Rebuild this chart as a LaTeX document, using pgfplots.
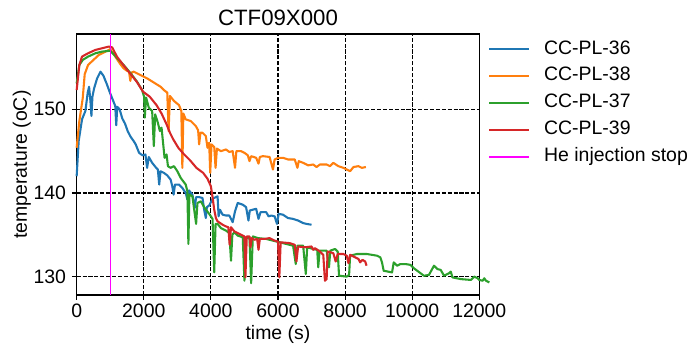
\documentclass[border=0pt]{standalone}
\usepackage{fontspec}
\setmainfont{Liberation Sans}
\usepackage{pgfplots}
\pgfplotsset{compat=1.18}
\definecolor{cblue}{HTML}{1F77B4}
\definecolor{corange}{HTML}{FF7F0E}
\definecolor{cgreen}{HTML}{2CA02C}
\definecolor{cred}{HTML}{D62728}
\definecolor{cmag}{HTML}{FF00FF}
\begin{document}
\begin{tikzpicture}
\useasboundingbox (-55.2pt,-37.44pt) rectangle (440.9pt,212.4pt);
\begin{axis}[
  at={(0pt,0pt)}, anchor=south west,
  scale only axis, width=289.9pt, height=187.9pt,
  xmin=0, xmax=12000, ymin=127.8, ymax=159,
  clip=false,
  xtick={0,2000,4000,6000,8000,10000,12000},
  ytick={130,140,150},
  scaled ticks=false,
  /pgf/number format/assume math mode=true,
  /pgf/number format/set thousands separator={},
  tick align=outside, tick pos=left,
  major tick length=3.5pt,
  tick style={black, line width=0.8pt},
  axis line style={black, line width=0.8pt},
  grid=major,
  major grid style={black, line width=0.8pt, dash pattern=on 2.96pt off 1.28pt},
  every tick label/.append style={font=\fontsize{14}{16.8}\selectfont, inner sep=0pt},
  xticklabel shift=2.5pt, yticklabel shift=4pt,
  title={CTF09X000},
  every axis title/.style={at={(axis description cs:0.5,1)}, anchor=base, yshift=6pt, font=\fontsize{16}{19.2}\selectfont},
  xlabel={time (s)},
  ylabel={temperature (oC)},
  every axis x label/.style={at={(axis description cs:0.5,0)}, anchor=base, yshift=-31.7pt, font=\fontsize{14}{16.8}\selectfont},
  every axis y label/.style={at={(axis description cs:0,0.5)}, xshift=-35.8pt, rotate=90, anchor=base, font=\fontsize{14}{16.8}\selectfont},
  legend cell align=left,
  legend style={at={(axis description cs:1,1)}, anchor=north west, xshift=6.4pt, yshift=-4.4pt,
    draw=none, fill=none, inner sep=0pt, outer sep=0pt, row sep=6.4pt, column sep=10pt,
    font=\fontsize{14}{16.8}\selectfont,
    nodes={inner sep=0pt, text height=10pt, text depth=3pt}},
  legend image code/.code={\draw[#1] (0pt,0pt) -- (28.8pt,0pt);},
  every axis plot/.append style={line width=1.5pt, line join=round},
]
\addplot[cblue] coordinates {
(0,142.0) (60,146.2) (160,148.8) (260,149.8) (330,152.0) (370,152.7) (410,151.0) (440,149.2) (470,151.5) (520,152.5) (610,153.7) (710,154.5) (800,154.0) (900,153.0) (1000,151.9) (1100,150.9) (1150,150.4) (1180,148.1) (1210,150.3) (1280,150.0) (1360,148.9) (1440,148.3) (1520,147.4) (1610,146.7) (1700,146.2) (1760,145.8) (1860,144.8) (1960,144.5) (2050,144.6) (2100,143.0) (2150,144.3) (2250,143.6) (2350,143.1) (2420,142.8) (2460,141.0) (2500,142.6) (2600,142.4) (2700,142.1) (2800,141.6) (2850,140.8) (2890,139.8) (2930,141.0) (3050,141.0) (3150,140.6) (3250,140.0) (3300,139.2) (3350,140.3) (3450,139.8) (3520,138.2) (3560,139.5) (3650,139.5) (3750,139.4) (3800,138.0) (3850,137.0) (3880,138.3) (3950,138.5) (4050,139.3) (4150,139.5) (4200,139.6) (4230,137.2) (4270,138.0) (4350,137.4) (4450,137.3) (4550,137.3) (4650,136.5) (4720,137.8) (4800,138.8) (4950,138.6) (5050,138.3) (5120,136.7) (5160,137.9) (5250,138.0) (5350,138.1) (5420,136.9) (5480,137.7) (5650,137.7) (5720,137.2) (5800,137.3) (5900,137.2) (5970,136.3) (6020,137.5) (6150,137.4) (6300,137.0) (6450,136.9) (6600,136.7) (6750,136.4) (6850,136.3) (7000,136.2)
};
\addlegendentry{CC-PL-36}
\addplot[corange] coordinates {
(0,145.4) (80,148.6) (180,151.3) (240,154.2) (340,155.3) (500,155.9) (660,156.5) (860,156.9) (960,157.1) (1000,157.2) (1100,156.6) (1200,156.0) (1300,155.4) (1400,154.9) (1500,154.6) (1560,154.5) (1600,153.4) (1640,154.4) (1700,154.5) (1900,154.1) (2100,153.7) (2300,153.2) (2500,152.7) (2600,152.3) (2700,152.0) (2740,147.4) (2780,151.6) (2900,151.0) (3050,150.5) (3120,149.8) (3150,143.0) (3180,149.5) (3250,148.8) (3400,148.6) (3550,148.0) (3620,147.5) (3650,145.8) (3690,147.2) (3750,147.2) (3850,146.8) (3900,145.4) (3950,146.0) (3980,142.4) (4020,145.8) (4100,145.5) (4140,143.0) (4180,145.3) (4300,145.0) (4450,145.2) (4550,144.9) (4650,145.0) (4720,143.0) (4760,145.0) (4900,145.0) (5000,144.8) (5100,144.5) (5150,143.8) (5200,144.4) (5350,144.2) (5420,143.5) (5460,144.3) (5550,144.4) (5750,144.3) (5850,142.8) (5900,144.0) (6000,144.2) (6150,144.2) (6300,144.0) (6500,144.0) (6580,143.0) (6620,143.8) (6750,143.6) (6900,143.3) (7050,143.4) (7150,143.1) (7250,143.4) (7450,143.4) (7550,143.2) (7650,143.6) (7800,143.2) (7950,143.0) (8050,142.8) (8150,142.6) (8250,143.1) (8400,143.2) (8500,143.0) (8620,143.1)
};
\addlegendentry{CC-PL-38}
\addplot[cgreen] coordinates {
(0,153.1) (80,155.3) (180,155.9) (340,156.3) (560,156.7) (760,156.9) (1000,157.0) (1100,156.6) (1210,156.1) (1400,155.3) (1610,154.3) (1800,153.3) (1950,152.3) (2010,151.5) (2030,149.0) (2070,151.4) (2150,150.2) (2250,149.8) (2300,145.6) (2340,149.4) (2420,148.4) (2480,147.4) (2530,147.8) (2580,145.8) (2620,144.2) (2680,144.6) (2720,143.2) (2800,143.0) (2900,143.2) (3000,142.6) (3100,141.8) (3250,141.0) (3300,140.2) (3330,133.9) (3360,139.8) (3450,139.6) (3520,137.5) (3560,136.3) (3600,138.8) (3700,139.0) (3800,138.3) (3950,137.5) (4050,136.9) (4100,130.5) (4140,136.3) (4200,136.3) (4300,135.8) (4450,135.5) (4550,135.2) (4600,131.9) (4640,135.0) (4700,135.3) (4800,134.9) (4950,134.7) (5000,129.5) (5050,134.6) (5150,134.7) (5200,129.2) (5250,134.8) (5400,134.6) (5650,134.5) (5850,134.3) (6050,134.1) (6250,133.9) (6450,133.7) (6530,131.5) (6580,133.7) (6750,133.7) (6830,130.3) (6870,133.5) (7050,133.3) (7170,133.2) (7200,131.1) (7240,133.1) (7450,133.1) (7520,131.1) (7560,133.1) (7700,133.3) (7780,133.0) (7820,130.1) (8050,130.0) (8120,130.2) (8150,132.5) (8350,132.7) (8650,132.7) (8950,132.5) (9050,132.3) (9100,131.7) (9150,130.7) (9400,130.5) (9450,131.7) (9550,131.3) (9650,131.5) (9800,131.5) (9950,131.4) (10050,131.0) (10150,130.7) (10350,130.1) (10500,130.2) (10650,131.3) (10750,130.9) (10850,130.8) (10950,130.1) (11100,130.4) (11150,130.6) (11200,129.9) (11450,129.7) (11750,129.6) (11850,130.0) (11950,129.8) (12000,129.6) (12100,129.5) (12150,129.8) (12200,129.5) (12300,129.3)
};
\addlegendentry{CC-PL-37}
\addplot[cred] coordinates {
(0,152.3) (80,155.3) (160,156.3) (340,156.7) (560,157.1) (760,157.3) (960,157.5) (1060,157.4) (1200,156.3) (1390,155.3) (1590,154.3) (1790,153.3) (1980,152.1) (2180,151.5) (2380,150.5) (2530,149.5) (2680,148.2) (2780,147.2) (2880,146.4) (3030,145.4) (3180,144.7) (3380,143.9) (3570,143.0) (3770,142.4) (3900,141.7) (4000,140.8) (4050,139.5) (4100,138.0) (4150,137.0) (4200,136.6) (4350,136.2) (4450,136.0) (4520,135.9) (4560,133.8) (4600,135.9) (4700,135.4) (4850,135.1) (5000,134.8) (5030,129.9) (5070,134.8) (5150,134.8) (5180,133.5) (5220,134.6) (5300,134.4) (5380,134.5) (5420,133.2) (5460,134.5) (5600,134.5) (5750,134.6) (5900,134.3) (6000,134.2) (6040,129.9) (6080,134.1) (6350,134.0) (6500,133.8) (6550,131.8) (6600,133.6) (6800,133.5) (7000,133.6) (7050,133.2) (7100,133.4) (7250,133.0) (7350,132.6) (7400,129.5) (7450,129.7) (7480,133.0) (7650,132.8) (7720,131.8) (7780,132.7) (7950,132.7) (8050,132.5) (8100,131.6) (8150,132.6) (8300,132.3) (8400,132.1) (8450,131.7) (8520,132.0) (8600,131.8) (8640,131.3)
};
\addlegendentry{CC-PL-39}
\addplot[cmag, line width=1pt] coordinates {(1000,127.8) (1000,159)};
\addlegendentry{He injection stop}
\end{axis}
\end{tikzpicture}
\end{document}
